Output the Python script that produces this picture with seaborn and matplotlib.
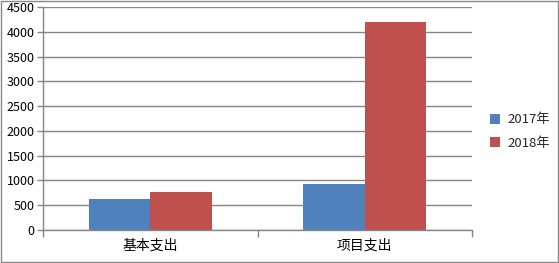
import matplotlib
matplotlib.use("Agg")
import matplotlib.pyplot as plt
import seaborn as sns
import pandas as pd
from matplotlib.patches import Rectangle

categories = ["基本支出", "项目支出"]
series = ["2017年", "2018年"]
values_2017 = [625, 934]
values_2018 = [767, 4200]
y_ticks = [0, 500, 1000, 1500, 2000, 2500, 3000, 3500, 4000, 4500]

df = pd.DataFrame({
    "category": categories * 2,
    "series": [series[0]] * 2 + [series[1]] * 2,
    "value": values_2017 + values_2018,
})

sns.set_theme(style="white")
plt.rcParams['font.family'] = ['Noto Sans CJK SC', 'DejaVu Sans']

fig = plt.figure(figsize=(5.59, 2.63), dpi=100)
ax = fig.add_axes([43/559, 33/263, (472-43)/559, (230-7)/263])

palette = {"2017年": "#4F81BD", "2018年": "#C0504D"}
sns.barplot(data=df, x="category", y="value", hue="series", order=categories,
            hue_order=series, palette=palette, width=2/3.5, saturation=1,
            linewidth=0, edgecolor="none", ax=ax, legend=True)

grid_c = "#868686"
ax.set_ylim(0, 4500)
ax.set_xlim(-0.5, 1.5)
ax.set_yticks(y_ticks)
ax.set_yticklabels([str(v) for v in y_ticks], fontsize=9, color="#000000")
ax.yaxis.grid(True, color=grid_c, linewidth=1)
ax.set_axisbelow(True)
ax.set_xlabel("")
ax.set_ylabel("")
for s in ["top", "right"]:
    ax.spines[s].set_visible(False)
for s in ["left", "bottom"]:
    ax.spines[s].set_color(grid_c)
    ax.spines[s].set_linewidth(1)
ax.tick_params(axis="y", left=True, length=4, color=grid_c, width=1, pad=2)
ax.tick_params(axis="x", which="major", bottom=False, length=0, labelsize=10, pad=6)
ax.set_xticks([-0.5, 0.5, 1.5], minor=True)
ax.tick_params(axis="x", which="minor", bottom=True, length=5, color=grid_c, width=1)
for lbl in ax.get_xticklabels():
    lbl.set_color("#000000")

leg = ax.legend(loc="center left", bbox_to_anchor=(478/559, 0.5),
                bbox_transform=fig.transFigure, frameon=False,
                fontsize=9.5, handlelength=0.8, handleheight=0.8,
                handletextpad=0.5, labelspacing=0.8)

fig.patches.append(Rectangle((0.001, 0.002), 0.997, 0.995, transform=fig.transFigure,
                             fill=False, edgecolor="#898989", linewidth=1))

fig.savefig("out.png", dpi=100)
